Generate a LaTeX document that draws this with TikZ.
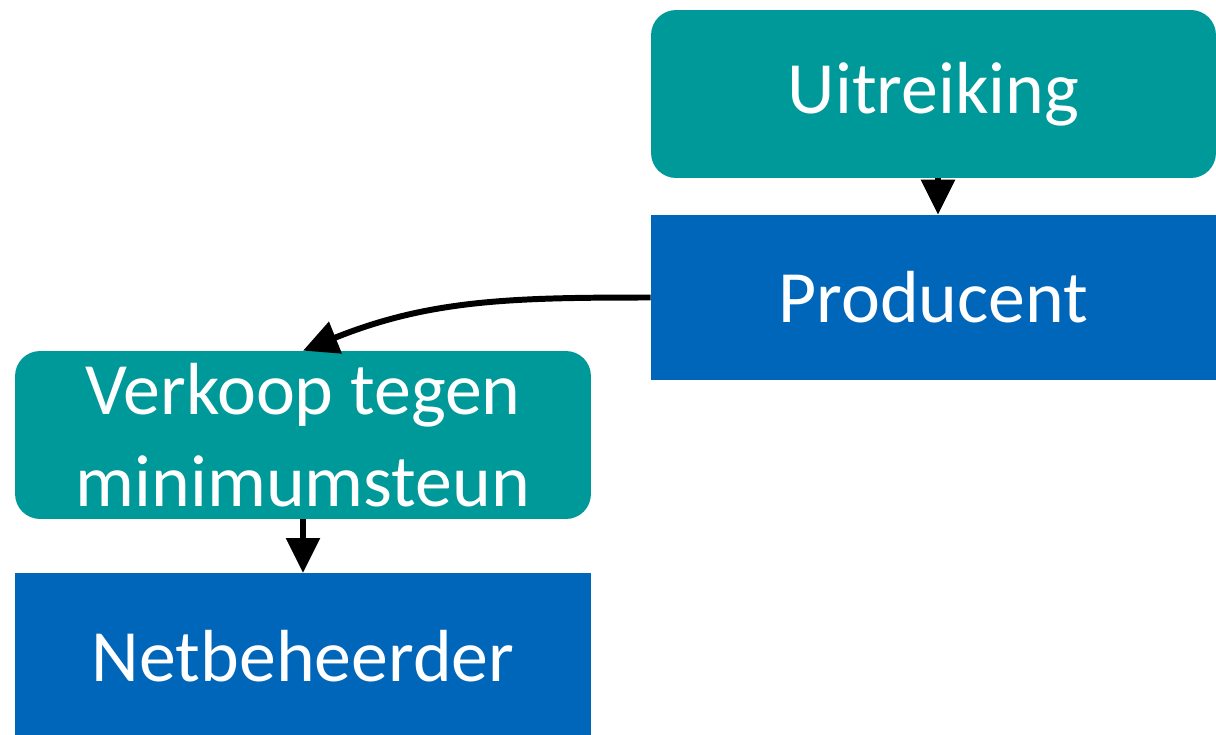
\documentclass[tikz,border=0pt]{standalone}
\usepackage{fontspec}
\setmainfont{Carlito}
\usetikzlibrary{arrows.meta}
\definecolor{tealbox}{HTML}{009999}
\definecolor{bluebox}{HTML}{0066BA}
\begin{document}
\begin{tikzpicture}[x=0.02cm,y=-0.02cm,
  boxtext/.style={text=white,font=\fontsize{42}{52}\selectfont,align=center,inner sep=0pt},
  tealstep/.style={boxtext,fill=tealbox,rounded corners=0.5cm},
  bluestep/.style={boxtext,fill=bluebox},
  conn/.style={line width=3.4pt,-{Triangle[length=0.7cm,width=0.66cm]}}]
\useasboundingbox (0,0) rectangle (1216,734);
\node[tealstep,minimum width=11.3cm,minimum height=3.36cm] (U) at (933.5,94) {Uitreiking};
\node[bluestep,minimum width=11.3cm,minimum height=3.3cm] (P) at (933.5,297.5) {Producent};
\node[tealstep,minimum width=11.52cm,minimum height=3.36cm] (V) at (303,435) {Verkoop tegen\\minimumsteun};
\node[bluestep,minimum width=11.52cm,minimum height=3.3cm,anchor=north] (N) at (303,573) {Netbeheerder};
\draw[conn] (U.south -| 938,0) -- (P.north -| 938,0);
\draw[conn] (P.west) to[out=180,in=22] (V.north);
\draw[conn] (V.south) -- (N.north);
\end{tikzpicture}
\end{document}
